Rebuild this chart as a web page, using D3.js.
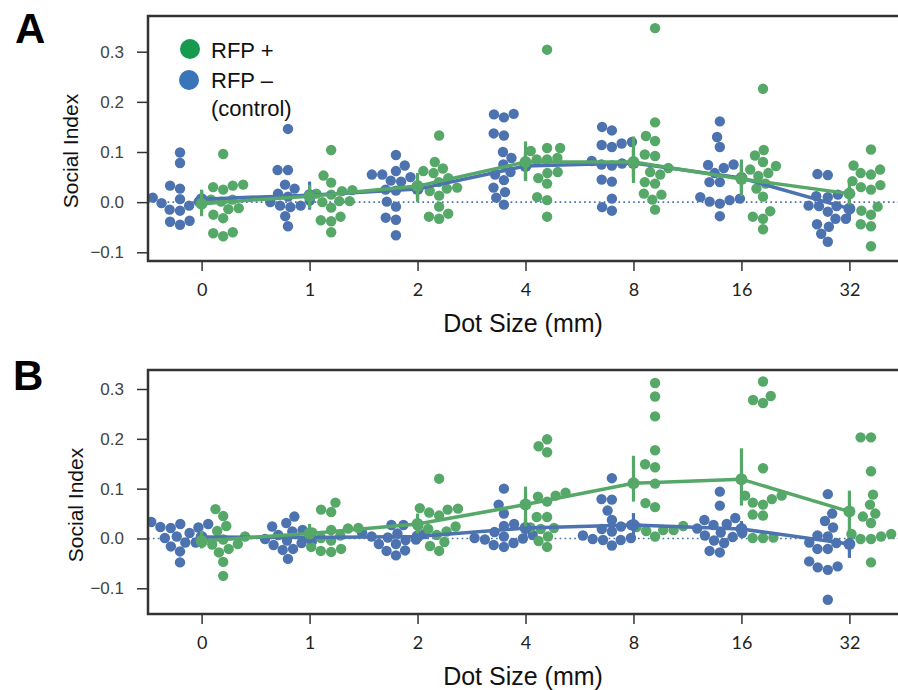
<!DOCTYPE html>
<html>
<head>
<meta charset="utf-8">
<script src="https://cdn.jsdelivr.net/npm/d3@7"></script>
<style>
  html, body { margin: 0; padding: 0; background: #fff; }
  svg { display: block; }
</style>
</head>
<body>
<svg id="chart" width="898" height="690"></svg>
<script>
// Dot sizes tested (mm) and tick labels
const categories = ["0", "1", "2", "4", "8", "16", "32"];
const yTicks = [-0.1, 0, 0.1, 0.2, 0.3];
const seriesNames = ["RFP +", "RFP \u2013", "(control)"];

// Panel A — individual social index values, one array per dot size
const aControl = [
  [0.099, 0.078, 0.033, 0.027, 0.009, 0.006, 0.001, -0.002, -0.007, -0.015, -0.017, -0.037, -0.039, -0.045],
  [0.146, 0.064, 0.064, 0.035, 0.027, 0.017, 0.011, 0.003, 0.0, -0.007, -0.007, -0.010, -0.028, -0.048],
  [0.094, 0.073, 0.062, 0.055, 0.055, 0.050, 0.043, 0.041, 0.025, 0.023, 0.001, -0.009, -0.031, -0.035, -0.066],
  [0.176, 0.175, 0.169, 0.137, 0.133, 0.100, 0.088, 0.075, 0.060, 0.055, 0.044, 0.029, 0.020, 0.009, -0.005],
  [0.150, 0.143, 0.120, 0.117, 0.114, 0.110, 0.082, 0.077, 0.075, 0.073, 0.045, 0.041, 0.007, -0.010, -0.017],
  [0.161, 0.130, 0.110, 0.075, 0.074, 0.068, 0.058, 0.040, 0.040, 0.010, 0.007, 0.004, 0.001, -0.003, -0.028],
  [0.056, 0.054, 0.015, 0.012, 0.010, -0.007, -0.008, -0.008, -0.019, -0.033, -0.033, -0.044, -0.049, -0.063, -0.079]
];
const aRfp = [
  [0.096, 0.035, 0.033, 0.030, 0.025, 0.005, 0.005, 0.001, -0.012, -0.014, -0.025, -0.032, -0.060, -0.062, -0.068],
  [0.104, 0.053, 0.039, 0.024, 0.022, 0.017, 0.015, 0.002, 0.002, 0.0, -0.011, -0.029, -0.036, -0.038, -0.060],
  [0.133, 0.080, 0.067, 0.062, 0.058, 0.048, 0.040, 0.029, 0.027, 0.022, 0.013, -0.009, -0.023, -0.029, -0.033],
  [0.304, 0.108, 0.108, 0.102, 0.088, 0.085, 0.085, 0.060, 0.058, 0.048, 0.037, 0.010, 0.004, -0.029],
  [0.347, 0.159, 0.132, 0.122, 0.095, 0.092, 0.068, 0.060, 0.055, 0.040, 0.037, 0.017, 0.015, 0.005, -0.015],
  [0.226, 0.104, 0.093, 0.080, 0.072, 0.065, 0.058, 0.052, 0.037, 0.027, 0.011, -0.018, -0.029, -0.033, -0.054],
  [0.105, 0.073, 0.065, 0.058, 0.055, 0.042, 0.034, 0.030, 0.025, -0.009, -0.017, -0.025, -0.044, -0.048, -0.088]
];
// Panel A — group means with 95% CI bounds
const aControlMean = [0.006, 0.014, 0.026, 0.072, 0.078, 0.048, -0.013];
const aControlLo   = [-0.010, -0.015, 0.005, 0.045, 0.050, 0.020, -0.036];
const aControlHi   = [0.022, 0.041, 0.045, 0.100, 0.105, 0.075, 0.012];
const aRfpMean = [-0.003, 0.012, 0.032, 0.080, 0.080, 0.046, 0.017];
const aRfpLo   = [-0.028, -0.012, 0.000, 0.042, 0.038, 0.012, -0.005];
const aRfpHi   = [0.025, 0.035, 0.058, 0.121, 0.131, 0.085, 0.039];

// Panel B — individual social index values
const bControl = [
  [0.033, 0.029, 0.029, 0.023, 0.022, 0.021, 0.011, 0.004, 0.001, -0.008, -0.008, -0.016, -0.026, -0.048],
  [0.044, 0.031, 0.024, 0.017, 0.014, 0.007, -0.001, -0.004, -0.006, -0.009, -0.013, -0.021, -0.023, -0.041],
  [0.027, 0.027, 0.012, 0.010, 0.009, 0.004, 0.002, -0.002, -0.003, -0.011, -0.011, -0.024, -0.025, -0.034],
  [0.100, 0.068, 0.050, 0.029, 0.025, 0.013, 0.007, 0.004, 0.001, 0.0, -0.002, -0.009, -0.013, -0.017],
  [0.121, 0.079, 0.078, 0.056, 0.037, 0.027, 0.024, 0.019, 0.014, 0.006, 0.001, -0.001, -0.003, -0.003, -0.014],
  [0.094, 0.066, 0.041, 0.037, 0.029, 0.027, 0.020, 0.012, 0.011, 0.006, 0.003, -0.004, -0.009, -0.025, -0.028],
  [0.089, 0.050, 0.035, 0.022, 0.006, 0.004, -0.008, -0.009, -0.021, -0.021, -0.046, -0.056, -0.058, -0.063, -0.123]
];
const bRfp = [
  [0.059, 0.045, 0.025, 0.015, 0.004, -0.002, -0.008, -0.011, -0.012, -0.021, -0.028, -0.047, -0.075],
  [0.072, 0.058, 0.053, 0.021, 0.020, 0.017, 0.012, 0.006, 0.001, -0.004, -0.017, -0.021, -0.025, -0.027],
  [0.120, 0.061, 0.060, 0.058, 0.052, 0.046, 0.025, 0.024, 0.019, 0.014, 0.007, -0.007, -0.015, -0.025],
  [0.199, 0.185, 0.173, 0.092, 0.086, 0.084, 0.074, 0.043, 0.043, 0.022, 0.021, 0.019, 0.004, -0.005, -0.017],
  [0.312, 0.285, 0.245, 0.177, 0.149, 0.143, 0.110, 0.071, 0.063, 0.025, 0.023, 0.017, 0.017, 0.015, 0.004],
  [0.315, 0.286, 0.278, 0.272, 0.141, 0.086, 0.086, 0.079, 0.072, 0.068, 0.048, 0.046, 0.002, 0.001, 0.001],
  [0.203, 0.203, 0.135, 0.088, 0.068, 0.050, 0.044, 0.031, 0.009, 0.009, 0.004, -0.001, -0.001, -0.048]
];
const bControlMean = [0.003, 0.002, 0.004, 0.021, 0.027, 0.019, -0.011];
const bControlLo   = [-0.008, -0.009, -0.006, 0.004, 0.004, 0.004, -0.039];
const bControlHi   = [0.014, 0.013, 0.014, 0.040, 0.051, 0.035, 0.011];
const bRfpMean = [-0.005, 0.010, 0.029, 0.068, 0.111, 0.119, 0.054];
const bRfpLo   = [-0.020, 0.001, 0.010, 0.024, 0.074, 0.066, 0.001];
const bRfpHi   = [0.015, 0.029, 0.050, 0.104, 0.166, 0.181, 0.096];

const BLUE = "#4c72b0", GREEN = "#55a868";
const svg = d3.select("#chart");

const x = d3.scalePoint().domain(categories).range([201.6, 849.4]);
const frameLeft = 148, frameRight = 904;

// Beeswarm layout: place each point at the horizontal offset closest to the
// group centre that does not overlap any point already placed.
function swarm(values, y, d) {
  const pts = values.map(v => ({ v, py: y(v), dx: 0 })).sort((a, b) => b.py - a.py);
  const placed = [];
  for (const p of pts) {
    const near = placed.filter(q => Math.abs(q.py - p.py) < d);
    const cands = [0];
    for (const q of near) {
      const dy = q.py - p.py;
      const off = Math.sqrt(d * d - dy * dy);
      cands.push(q.dx - off, q.dx + off);
    }
    cands.sort((a, b) => Math.abs(a) - Math.abs(b) || a - b);
    for (const c of cands) {
      const ok = near.every(q => (c - q.dx) ** 2 + (q.py - p.py) ** 2 >= d * d - 0.01);
      if (ok) { p.dx = c; break; }
    }
    placed.push(p);
  }
  return pts;
}

function drawPanel(cfg) {
  const g = svg.append("g");
  const y = d3.scaleLinear().domain([-0.1, 0.3]).range([cfg.yLow, cfg.yHigh]);

  g.append("defs").append("clipPath").attr("id", "clip" + cfg.id)
    .append("rect").attr("x", frameLeft).attr("y", cfg.top)
    .attr("width", frameRight - frameLeft).attr("height", cfg.bottom - cfg.top);

  // zero reference line
  g.append("line")
    .attr("x1", frameLeft).attr("x2", frameRight)
    .attr("y1", y(0)).attr("y2", y(0))
    .attr("stroke", BLUE).attr("stroke-width", 1.7)
    .attr("stroke-dasharray", "1.7,3.2");

  const plot = g.append("g").attr("clip-path", `url(#clip${cfg.id})`);
  const off = x.step() * 0.2;
  const R = 5.2, D = 10.4;

  // swarms: control to the left of each dot size, RFP+ to the right
  [[cfg.control, -off, BLUE], [cfg.rfp, off, GREEN]].forEach(([groups, shift, col]) => {
    groups.forEach((vals, i) => {
      const cx = x(categories[i]) + shift;
      plot.append("g").selectAll("circle")
        .data(swarm(vals, y, D))
        .join("circle")
        .attr("cx", p => cx + p.dx)
        .attr("cy", p => p.py)
        .attr("r", R)
        .attr("fill", col);
    });
  });

  // mean ± CI point plots
  [[cfg.cMean, cfg.cLo, cfg.cHi, BLUE], [cfg.rMean, cfg.rLo, cfg.rHi, GREEN]].forEach(([m, lo, hi, col]) => {
    const line = d3.line().x((d, i) => x(categories[i])).y(d => y(d));
    plot.append("path").datum(m).attr("d", line)
      .attr("fill", "none").attr("stroke", col).attr("stroke-width", 3.5);
    plot.append("g").selectAll("line").data(m).join("line")
      .attr("x1", (d, i) => x(categories[i])).attr("x2", (d, i) => x(categories[i]))
      .attr("y1", (d, i) => y(lo[i])).attr("y2", (d, i) => y(hi[i]))
      .attr("stroke", col).attr("stroke-width", 3.2);
    plot.append("g").selectAll("circle").data(m).join("circle")
      .attr("cx", (d, i) => x(categories[i])).attr("cy", d => y(d))
      .attr("r", 6).attr("fill", col);
  });

  // frame
  g.append("rect")
    .attr("x", frameLeft).attr("y", cfg.top)
    .attr("width", frameRight - frameLeft).attr("height", cfg.bottom - cfg.top)
    .attr("fill", "none").attr("stroke", "#333").attr("stroke-width", 2.5);

  // y axis
  const yAxis = g.append("g").attr("transform", `translate(${frameLeft},0)`)
    .call(d3.axisLeft(y).tickValues(yTicks).tickFormat(d3.format(".1f")).tickSize(11).tickPadding(13));
  yAxis.select(".domain").remove();
  yAxis.selectAll(".tick line").attr("stroke", "#333").attr("stroke-width", 1.5);
  yAxis.selectAll(".tick text").attr("font-family", "'Liberation Sans', Arial, sans-serif")
    .attr("font-size", 17).attr("fill", "#444");

  // x axis
  const xAxis = g.append("g").attr("transform", `translate(0,${cfg.bottom})`)
    .call(d3.axisBottom(x).tickSize(10).tickPadding(12));
  xAxis.select(".domain").remove();
  xAxis.selectAll(".tick line").attr("stroke", "#333").attr("stroke-width", 1.5);
  xAxis.selectAll(".tick text").attr("font-family", "Lato, 'Open Sans', sans-serif")
    .attr("font-size", 18).attr("fill", "#222");

  // axis titles
  g.append("text")
    .attr("x", 523).attr("y", cfg.bottom + 71)
    .attr("text-anchor", "middle")
    .attr("font-family", "'Liberation Sans', Arial, sans-serif").attr("font-size", 25)
    .attr("fill", "#111").text("Dot Size (mm)");
  g.append("text")
    .attr("transform", `translate(${cfg.yLabelX},${cfg.yLabelY}) rotate(-90)`)
    .attr("text-anchor", "middle")
    .attr("font-family", "'Liberation Sans', Arial, sans-serif").attr("font-size", 21)
    .attr("fill", "#111").text("Social Index");

  // panel letter
  g.append("text").attr("x", cfg.letterX).attr("y", cfg.letterY)
    .attr("font-family", "'Liberation Sans', Arial, sans-serif").attr("font-weight", "bold")
    .attr("font-size", 42).attr("fill", "#000").text(cfg.id);
}

drawPanel({
  id: "A", top: 16, bottom: 261, yLow: 252.3, yHigh: 51.7,
  control: aControl, rfp: aRfp,
  cMean: aControlMean, cLo: aControlLo, cHi: aControlHi,
  rMean: aRfpMean, rLo: aRfpLo, rHi: aRfpHi,
  yLabelX: 78, yLabelY: 151, letterX: 15, letterY: 43
});
drawPanel({
  id: "B", top: 370, bottom: 614, yLow: 588.3, yHigh: 389,
  control: bControl, rfp: bRfp,
  cMean: bControlMean, cLo: bControlLo, cHi: bControlHi,
  rMean: bRfpMean, rLo: bRfpLo, rHi: bRfpHi,
  yLabelX: 83, yLabelY: 505, letterX: 13, letterY: 390
});

// legend (panel A)
const legend = svg.append("g").attr("font-family", "'Liberation Sans', Arial, sans-serif")
  .attr("font-size", 22).attr("fill", "#111");
legend.append("circle").attr("cx", 190).attr("cy", 49).attr("r", 10).attr("fill", "#159a4f");
legend.append("circle").attr("cx", 189).attr("cy", 80).attr("r", 10).attr("fill", "#3a74b9");
legend.append("text").attr("x", 211).attr("y", 58).text(seriesNames[0]);
legend.append("text").attr("x", 211).attr("y", 88).text(seriesNames[1]);
legend.append("text").attr("x", 211).attr("y", 116).text(seriesNames[2]);
</script>
</body>
</html>
